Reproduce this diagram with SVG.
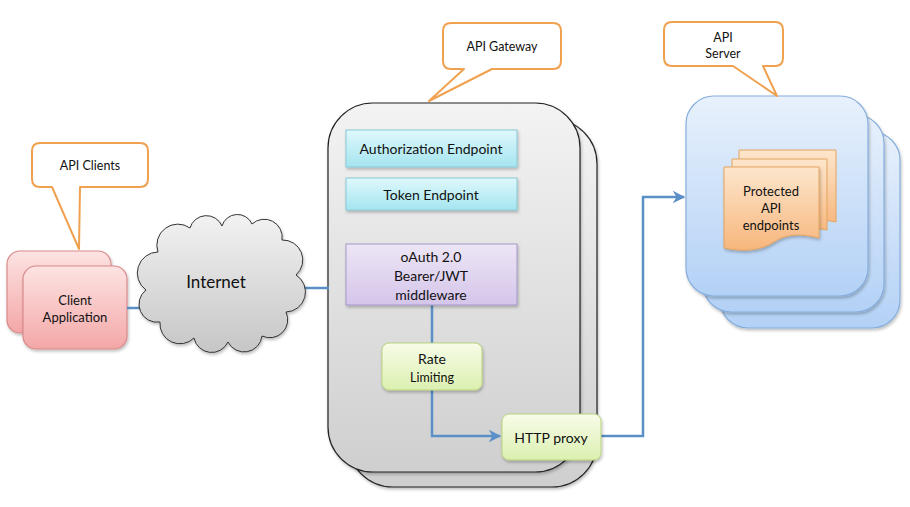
<svg xmlns="http://www.w3.org/2000/svg" width="910" height="507" viewBox="0 0 910 507">
<defs>
<linearGradient id="gGray" x1="0" y1="0" x2="0" y2="1"><stop offset="0" stop-color="#f3f3f3"/><stop offset="1" stop-color="#cfcfcf"/></linearGradient>
<linearGradient id="gCloud" x1="0" y1="0" x2="0" y2="1"><stop offset="0" stop-color="#f2f2f2"/><stop offset="1" stop-color="#c6c6c6"/></linearGradient>
<linearGradient id="gPink" x1="0" y1="0" x2="0" y2="1"><stop offset="0" stop-color="#fde3e3"/><stop offset="1" stop-color="#f4a7a7"/></linearGradient>
<linearGradient id="gCyan" x1="0" y1="0" x2="0" y2="1"><stop offset="0" stop-color="#dff8fc"/><stop offset="1" stop-color="#a5e5f0"/></linearGradient>
<linearGradient id="gPurple" x1="0" y1="0" x2="0" y2="1"><stop offset="0" stop-color="#ede6f6"/><stop offset="1" stop-color="#d4c5ea"/></linearGradient>
<linearGradient id="gGreen" x1="0" y1="0" x2="0" y2="1"><stop offset="0" stop-color="#f7fce8"/><stop offset="1" stop-color="#dcf0b0"/></linearGradient>
<linearGradient id="gBlue" x1="0" y1="0" x2="0" y2="1"><stop offset="0" stop-color="#e8f1fc"/><stop offset="1" stop-color="#b3d1f6"/></linearGradient>
<linearGradient id="gOrange" x1="0" y1="0" x2="0" y2="1"><stop offset="0" stop-color="#fde6cc"/><stop offset="1" stop-color="#f7b67d"/></linearGradient>
<filter id="sh" x="-10%" y="-10%" width="130%" height="130%"><feDropShadow dx="1" dy="2" stdDeviation="1.5" flood-color="#000" flood-opacity="0.25"/></filter>
<marker id="arr" viewBox="0 0 10 10" refX="9" refY="5" markerWidth="5" markerHeight="5" orient="auto" markerUnits="strokeWidth"><path d="M0,0 L10,5 L0,10 L3,5 Z" fill="#5b8fc7"/></marker>
<style>
text{font-family:Lato,"Liberation Sans",sans-serif;fill:#111;text-anchor:middle}
.callout{fill:#fff;stroke:#f0a150;stroke-width:2;stroke-linejoin:round}
.conn{fill:none;stroke:#5b8fc7;stroke-width:2.5}
.t13{font-size:13px}
.t14{font-size:14px}
</style>
</defs>

<g id="client-app">
<rect x="7" y="251" width="104" height="82" rx="13" fill="url(#gPink)" stroke="#d98a8a" stroke-width="1.2" filter="url(#sh)"/>
<rect x="23" y="266" width="104" height="83" rx="13" fill="url(#gPink)" stroke="#d98a8a" stroke-width="1.2" filter="url(#sh)"/>
<text class="t13" x="75" y="305">Client</text>
<text class="t13" x="75" y="322">Application</text>
</g>

<g id="callout-clients">
<path class="callout" d="M40,143 H140 Q148,143 148,151 V179 Q148,187 140,187 H80 L79,249 L52,187 H40 Q32,187 32,179 V151 Q32,143 40,143 Z"/>
<text x="90" y="170" font-size="12.5px">API Clients</text>
</g>

<g id="gateway">
<rect x="348" y="119" width="249" height="368" rx="45" fill="url(#gGray)" stroke="#222" stroke-width="1.2" filter="url(#sh)"/>
<rect x="328" y="103" width="252" height="369" rx="45" fill="url(#gGray)" stroke="#222" stroke-width="1.2" filter="url(#sh)"/>
</g>

<g id="connectors">
<path class="conn" d="M127,308 H150"/>
<path class="conn" d="M292,288 H329"/>
<path class="conn" d="M432,305 V343"/>
<path class="conn" d="M432,390 V436 H500" marker-end="url(#arr)"/>
<path class="conn" d="M601,436 H643 V197 H684" marker-end="url(#arr)"/>
</g>

<g id="internet">
<path d="M158,252 A21,21 0 0 1 190,228 A17,17 0 0 1 222,226 A16,16 0 0 1 252,224 A18,18 0 0 1 282,240 A20,20 0 0 1 296,275 A20,20 0 0 1 286,312 A18,18 0 0 1 262,336 A18,18 0 0 1 228,342 A18,18 0 0 1 194,338 A20,20 0 0 1 160,322 A18,18 0 0 1 146,290 A21,21 0 0 1 158,252 Z" fill="url(#gCloud)" stroke="#333" stroke-width="1" filter="url(#sh)"/>
<text x="216" y="288" font-size="17px">Internet</text>
</g>

<g id="callout-gateway">
<path class="callout" d="M451,23 H553 Q561,23 561,31 V61 Q561,69 553,69 H492 L429,101 L464,69 H451 Q443,69 443,61 V31 Q443,23 451,23 Z"/>
<text x="502" y="51" font-size="12.5px">API Gateway</text>
</g>

<g id="auth-endpoint">
<rect x="346" y="130" width="171" height="37" fill="url(#gCyan)" stroke="#86c9d6" stroke-width="1" filter="url(#sh)"/>
<text class="t14" x="431" y="154">Authorization Endpoint</text>
</g>

<g id="token-endpoint">
<rect x="346" y="178" width="171" height="32" fill="url(#gCyan)" stroke="#86c9d6" stroke-width="1" filter="url(#sh)"/>
<text class="t14" x="431" y="200">Token Endpoint</text>
</g>

<g id="oauth">
<rect x="346" y="244" width="171" height="61" fill="url(#gPurple)" stroke="#a597c8" stroke-width="1" filter="url(#sh)"/>
<text class="t14" x="431" y="262">oAuth 2.0</text>
<text class="t14" x="431" y="281">Bearer/JWT</text>
<text class="t14" x="431" y="300">middleware</text>
</g>

<g id="rate-limiting">
<rect x="382" y="343" width="100" height="47" rx="7" fill="url(#gGreen)" stroke="#b9d37e" stroke-width="1" filter="url(#sh)"/>
<text class="t14" x="432" y="364">Rate</text>
<text x="432" y="382" font-size="12.5px">Limiting</text>
</g>

<g id="http-proxy">
<rect x="502" y="414" width="99" height="46" rx="7" fill="url(#gGreen)" stroke="#b9d37e" stroke-width="1" filter="url(#sh)"/>
<text class="t14" x="551" y="443">HTTP proxy</text>
</g>

<g id="api-server">
<rect x="720" y="132" width="180" height="196" rx="28" fill="url(#gBlue)" stroke="#86aedc" stroke-width="1.2" filter="url(#sh)"/>
<rect x="703" y="115" width="181" height="197" rx="28" fill="url(#gBlue)" stroke="#86aedc" stroke-width="1.2" filter="url(#sh)"/>
<rect x="686" y="96" width="182" height="200" rx="28" fill="url(#gBlue)" stroke="#86aedc" stroke-width="1.2" filter="url(#sh)"/>
</g>

<g id="callout-server">
<path class="callout" d="M672,22 H775 Q783,22 783,30 V58 Q783,66 775,66 H763 L777,96 L733,66 H672 Q664,66 664,58 V30 Q664,22 672,22 Z"/>
<text x="723" y="42" font-size="12.5px">API</text>
<text x="723" y="58" font-size="12.5px">Server</text>
</g>

<g id="protected-endpoints">
<path d="M739,150 H836 V222 C822,219 812,220 804,226 L739,226 Z" fill="url(#gOrange)" stroke="#e3a45f" stroke-width="1"/>
<path d="M732,159 H827 V230 C812,227 802,229 794,235 L732,235 Z" fill="url(#gOrange)" stroke="#e3a45f" stroke-width="1"/>
<path d="M724,167 H819 V238 C800,233 786,234 774,242 C760,251 744,252 724,248 Z" fill="url(#gOrange)" stroke="#e3a45f" stroke-width="1" filter="url(#sh)"/>
<text class="t13" x="771" y="196">Protected</text>
<text class="t13" x="771" y="213">API</text>
<text class="t13" x="771" y="230">endpoints</text>
</g>
</svg>
